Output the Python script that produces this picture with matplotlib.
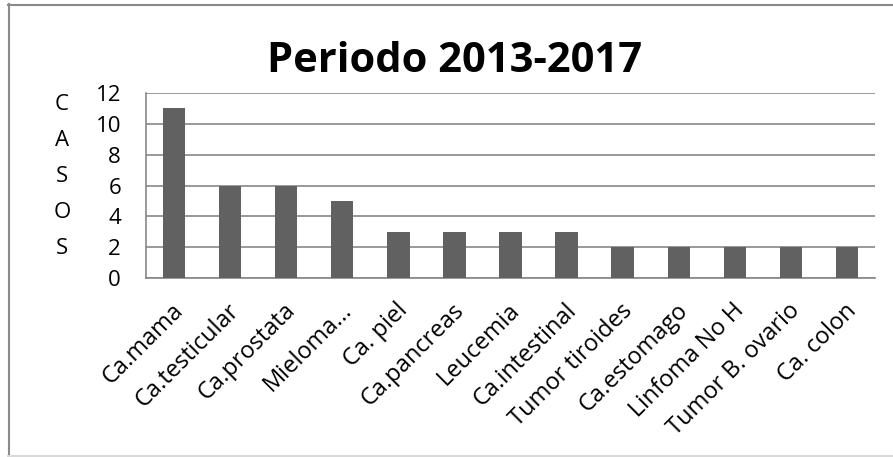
import matplotlib
matplotlib.use("Agg")
import matplotlib.pyplot as plt
from matplotlib.lines import Line2D
from matplotlib.transforms import ScaledTranslation

# casos por tipo de cancer
categorias = ["Ca.mama", "Ca.testicular", "Ca.prostata", "Mieloma...", "Ca. piel",
              "Ca.pancreas", "Leucemia", "Ca.intestinal", "Tumor tiroides",
              "Ca.estomago", "Linfoma No H", "Tumor B. ovario", "Ca. colon"]
casos = [11, 6, 6, 5, 3, 3, 3, 3, 2, 2, 2, 2, 2]
yticks = [0, 2, 4, 6, 8, 10, 12]

plt.rcParams['font.family'] = ['Open Sans', 'DejaVu Sans']

W, H = 893, 457
fig = plt.figure(figsize=(W / 100, H / 100), dpi=100)
fig.patch.set_facecolor("white")

ax = fig.add_axes([146 / W, 1 - 278 / H, (875 - 146) / W, (278 - 93) / H])
x = list(range(len(categorias)))
ax.bar(x, casos, width=0.4, color="#616161", zorder=3)

ax.set_xlim(-0.5, len(categorias) - 0.5)
ax.set_ylim(0, 12)
ax.set_yticks(yticks)
ax.set_yticklabels([str(v) for v in yticks], fontsize=16)
ax.yaxis.grid(True, color="#878787", linewidth=1.2, zorder=0)
ax.tick_params(axis="y", length=0, pad=18)
ax.tick_params(axis="x", length=0, pad=8)

ax.set_xticks(x)
ax.set_xticklabels(categorias, rotation=45, ha="right", va="center",
                   rotation_mode="anchor", fontsize=17)
for lbl in ax.get_xticklabels():
    lbl.set_transform(lbl.get_transform() + ScaledTranslation(6 / 100, -18 / 100, fig.dpi_scale_trans))

for s in ["top", "right"]:
    ax.spines[s].set_visible(False)
for s in ["left", "bottom"]:
    ax.spines[s].set_color("#878787")
    ax.spines[s].set_linewidth(1.2)

# titulo
fig.text(455 / W, 1 - 72 / H, "Periodo 2013-2017", ha="center", va="baseline",
         fontsize=30, fontweight="bold")

# etiqueta vertical del eje y
for i, letra in enumerate("CASOS"):
    fig.text(62 / W, 1 - (105 + 35.75 * i) / H, letra, ha="center", va="center", fontsize=16)

# marco del grafico
fig.add_artist(Line2D([8.5 / W, 8.5 / W], [0, 1 - 4 / H], color="#8a8a8a", linewidth=1.5))
fig.add_artist(Line2D([8 / W, 1], [1 - 4.5 / H, 1 - 4.5 / H], color="#8a8a8a", linewidth=1.5))
fig.add_artist(Line2D([8 / W, 1], [1 - 456 / H, 1 - 456 / H], color="#d9d9d9", linewidth=1.5))

fig.savefig("out.png", dpi=100)
